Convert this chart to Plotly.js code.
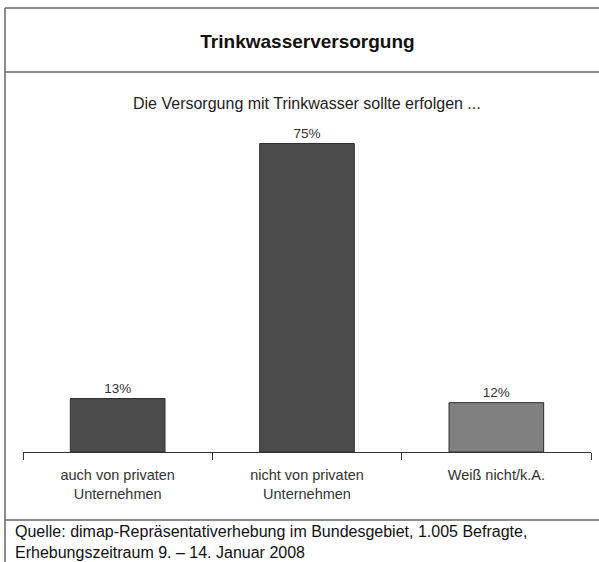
<!DOCTYPE html>
<html>
<head>
<meta charset="utf-8">
<script src="https://cdn.plot.ly/plotly-3.0.1.min.js"></script>
<style>html,body{margin:0;padding:0;background:#fff;}#chart{width:599px;height:562px;}</style>
</head>
<body>
<div id="chart"></div>
<script>
const categories = ["auch von privaten<br>Unternehmen", "nicht von privaten<br>Unternehmen", "Weiß nicht/k.A."];
const values = [13, 75, 12];
const valueLabels = ["13%", "75%", "12%"];
const barColors = ["#4b4b4b", "#4b4b4b", "#808080"];
const chartTitle = "Trinkwasserversorgung";
const subTitle = "Die Versorgung mit Trinkwasser sollte erfolgen ...";
const sourceNote = "Quelle: dimap-Repräsentativerhebung im Bundesgebiet, 1.005 Befragte,<br>Erhebungszeitraum 9. – 14. Januar 2008";

const font = "Liberation Sans, Arial, sans-serif";
const W = 599, H = 562;
const L = 23, R = 8, T = 130, B = 110;
const pw = W - L - R, ph = H - T - B;
const px = x => (x - L) / pw;
const py = y => (H - B - y) / ph;

const trace = {
  type: "bar",
  x: categories,
  y: values,
  text: valueLabels,
  textposition: "outside",
  textfont: {family: font, size: 13.5, color: "#333"},
  cliponaxis: false,
  width: 0.5,
  marker: {color: barColors, line: {color: "#2e2e2e", width: 1}},
  hoverinfo: "none"
};

const lineStyle = {color: "#666", width: 1.5};
const layout = {
  width: W, height: H,
  margin: {l: L, r: R, t: T, b: B},
  paper_bgcolor: "#fff", plot_bgcolor: "#fff",
  showlegend: false,
  font: {family: font, color: "#222"},
  title: {text: "<b>" + chartTitle + "</b>", x: 307.5 / W, xanchor: "center", y: 1 - 41 / H, yanchor: "middle", yref: "container", xref: "container",
          font: {family: font, size: 19, color: "#111"}},
  xaxis: {
    showline: true, linecolor: "#333", linewidth: 1,
    ticks: "outside", tickson: "boundaries", ticklen: 7, tickcolor: "#333",
    ticklabelstandoff: 10,
    tickfont: {family: font, size: 14.5, color: "#333"},
    showgrid: false, zeroline: false, fixedrange: true
  },
  yaxis: {
    range: [0, ph / 4.113], visible: false, showgrid: false, zeroline: false, fixedrange: true
  },
  shapes: [
    {type: "line", xref: "paper", yref: "paper", x0: px(5), x1: px(600), y0: py(8), y1: py(8), line: lineStyle},
    {type: "line", xref: "paper", yref: "paper", x0: px(5), x1: px(600), y0: py(72), y1: py(72), line: lineStyle},
    {type: "line", xref: "paper", yref: "paper", x0: px(5), x1: px(600), y0: py(520), y1: py(520), line: lineStyle},
    {type: "line", xref: "paper", yref: "paper", x0: px(5), x1: px(5), y0: py(8), y1: py(563), line: lineStyle}
  ],
  annotations: [
    {text: subTitle, xref: "paper", yref: "paper", x: px(307), y: py(103), xanchor: "center", yanchor: "middle",
     showarrow: false, font: {family: font, size: 16, color: "#222"}},
    {text: sourceNote, xref: "paper", yref: "paper", x: px(13), y: py(542), xanchor: "left", yanchor: "middle", align: "left",
     showarrow: false, font: {family: font, size: 16, color: "#111"}}
  ]
};

Plotly.newPlot("chart", [trace], layout, {displayModeBar: false, staticPlot: true});
</script>
</body>
</html>
